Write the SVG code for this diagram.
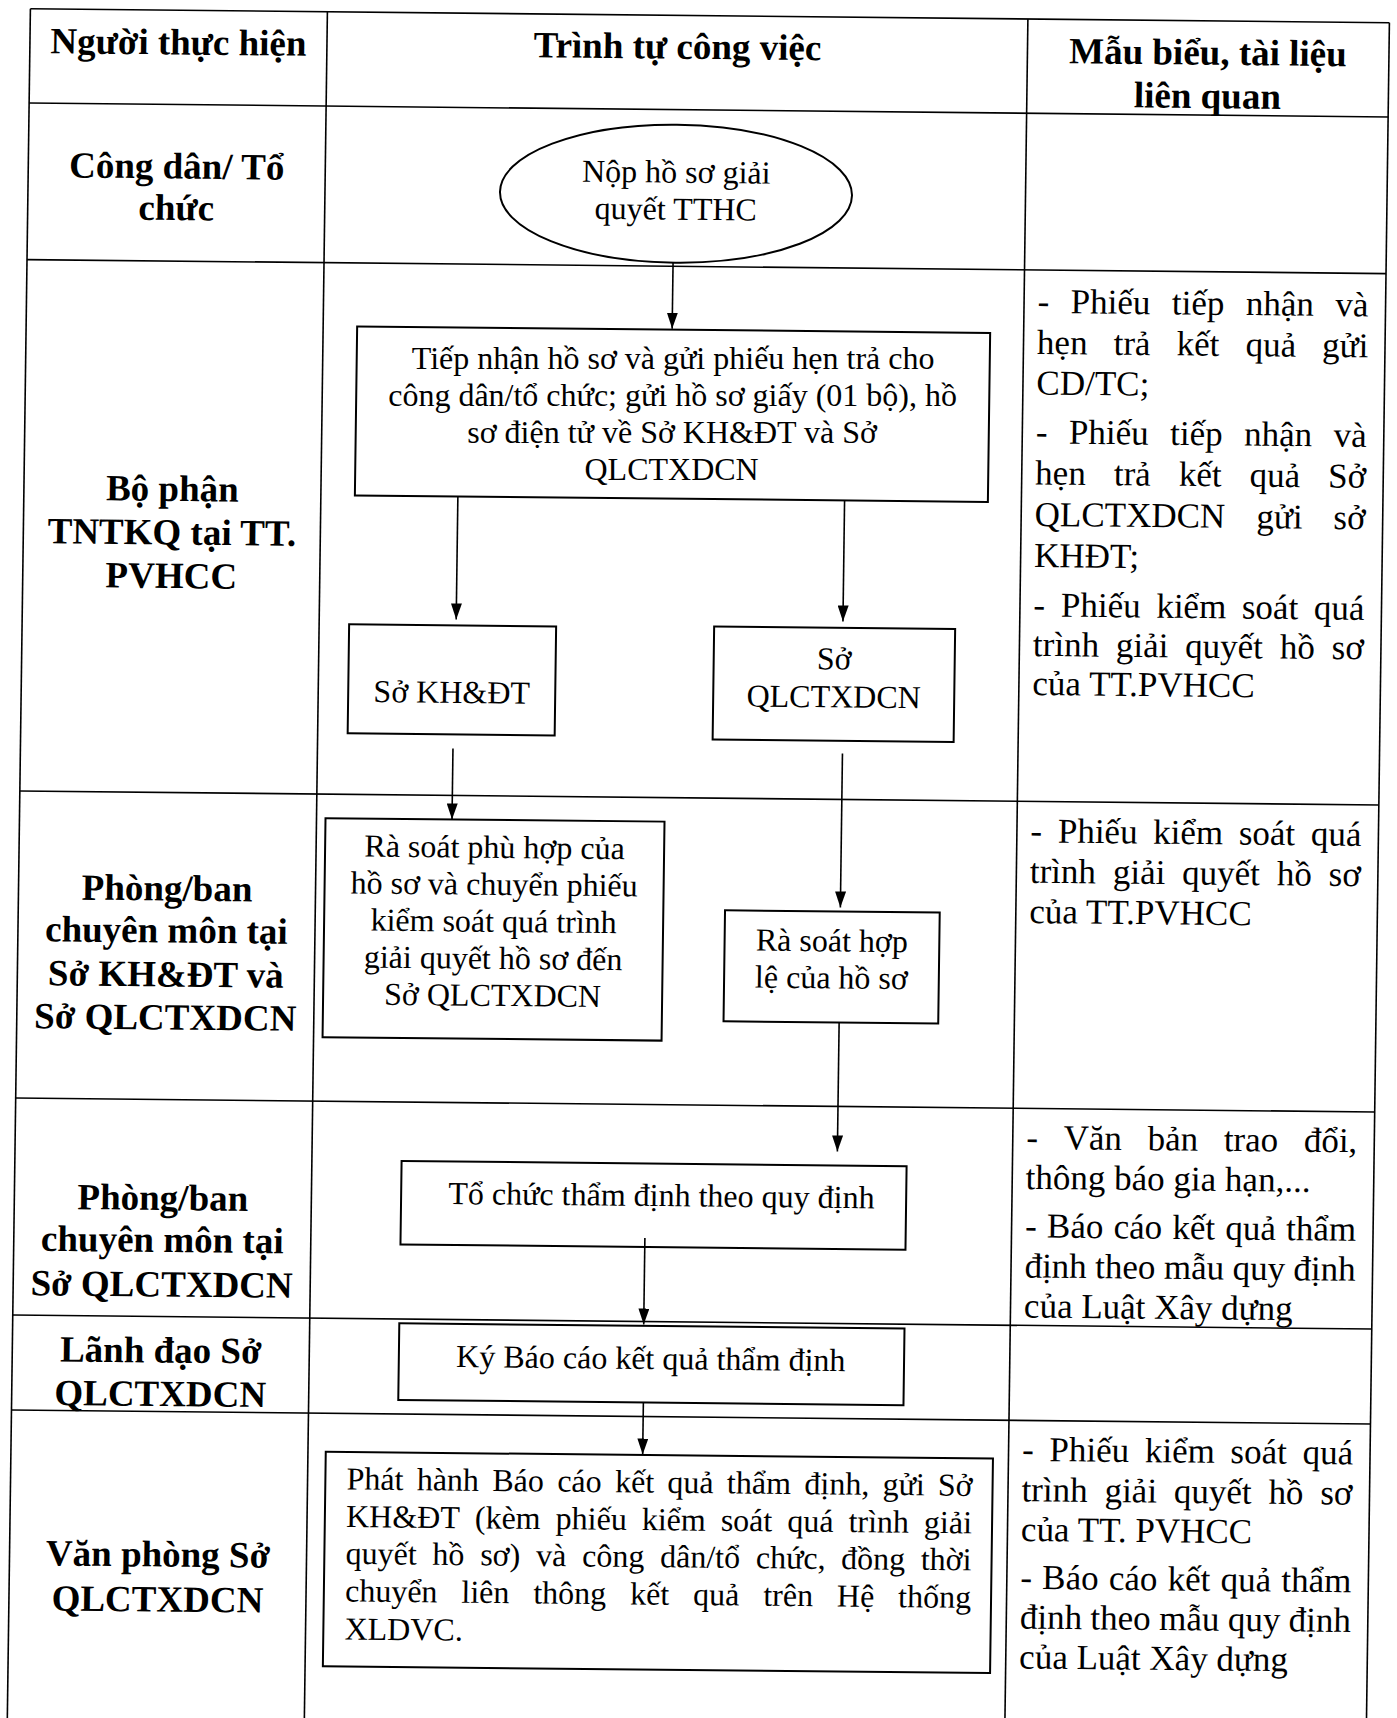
<svg xmlns="http://www.w3.org/2000/svg" width="1397" height="1718" viewBox="0 0 1397 1718">
<style>
.t{font-family:"Liberation Serif","Times New Roman",serif;font-size:32px;fill:#000}
.b{font-weight:bold;font-size:37px}
.m{font-size:35px}
.c{text-anchor:middle}
.ln{stroke:#000;stroke-width:1.6;fill:none}
.bx{fill:#fff;stroke:#000;stroke-width:2}
.ar{stroke:#000;stroke-width:1.6;fill:none;marker-end:url(#ah)}
</style>
<defs>
<marker id="ah" viewBox="0 0 16 11" refX="16" refY="5.5" markerWidth="16" markerHeight="11" markerUnits="userSpaceOnUse" orient="auto">
<path d="M0,0 L16,5.5 L0,11 z" fill="#000"/>
</marker>
</defs>
<rect width="1397" height="1718" fill="#fff"/>
<g id="n-receive">
<rect class="bx" x="350" y="330" width="633" height="169" transform="matrix(1 0.0103 -0.0135 1 11.61 -7.21)"/>
<text class="t c" x="673.1" y="369.2">Tiếp nhận hồ sơ và gửi phiếu hẹn trả cho</text>
<text class="t c" x="672.6" y="406.2">công dân/tổ chức; gửi hồ sơ giấy (01 bộ), hồ</text>
<text class="t c" x="672.1" y="443.2">sơ điện tử về Sở KH&amp;ĐT và Sở</text>
<text class="t c" x="671.6" y="480.2">QLCTXDCN</text>
</g>
<g transform="matrix(1 0.0103 -0.0135 1 11.61 -7.21)">
<g id="table" class="ln">
<line x1="19" y1="15.7" x2="1378" y2="15.7"/>
<line x1="19" y1="110" x2="1378" y2="110"/>
<line x1="19" y1="266.6" x2="1378" y2="266.6"/>
<line x1="19" y1="798" x2="1378" y2="798"/>
<line x1="19" y1="1105" x2="1378" y2="1105"/>
<line x1="19" y1="1322" x2="1378" y2="1322"/>
<line x1="19" y1="1417" x2="1378" y2="1417"/>
<line x1="19" y1="15.7" x2="19" y2="1740"/>
<line x1="316" y1="15.7" x2="316" y2="1740"/>
<line x1="1016.5" y1="15.7" x2="1016.5" y2="1740"/>
<line x1="1378" y1="15.7" x2="1378" y2="1740"/>
</g>
<g id="headers">
<text class="t b c" x="167.5" y="60">Người thực hiện</text>
<text class="t b c" x="666.5" y="59">Trình tự công việc</text>
<text class="t b c" x="1197" y="59.6">Mẫu biểu, tài liệu</text>
<text class="t b c" x="1197" y="103">liên quan</text>
</g>
<g id="actors">
<text class="t b c" x="167.5" y="184">Công dân/ Tổ</text>
<text class="t b c" x="167.5" y="225.5">chức</text>
<text class="t b c" x="167.5" y="506.5">Bộ phận</text>
<text class="t b c" x="167.5" y="550">TNTKQ tại TT.</text>
<text class="t b c" x="167.5" y="593.5">PVHCC</text>
<text class="t b c" x="167.5" y="906">Phòng/ban</text>
<text class="t b c" x="167.5" y="948">chuyên môn tại</text>
<text class="t b c" x="167.5" y="992">Sở KH&amp;ĐT và</text>
<text class="t b c" x="167.5" y="1035">Sở QLCTXDCN</text>
<text class="t b c" x="167.5" y="1215.5">Phòng/ban</text>
<text class="t b c" x="167.5" y="1257.5">chuyên môn tại</text>
<text class="t b c" x="167.5" y="1302">Sở QLCTXDCN</text>
<text class="t b c" x="167.5" y="1368">Lãnh đạo Sở</text>
<text class="t b c" x="167.5" y="1411.5">QLCTXDCN</text>
<text class="t b c" x="167.5" y="1572">Văn phòng Sở</text>
<text class="t b c" x="167.5" y="1617">QLCTXDCN</text>
</g>
<g id="docs">
<text class="t m" y="309.5"><tspan x="1030">-</tspan> <tspan x="1063.2">Phiếu</tspan> <tspan x="1164.4">tiếp</tspan> <tspan x="1238.4">nhận</tspan> <tspan x="1327.9">và</tspan></text>
<text class="t m" y="350.5"><tspan x="1030">hẹn</tspan> <tspan x="1106.6">trả</tspan> <tspan x="1169.7">kết</tspan> <tspan x="1238.6">quả</tspan> <tspan x="1315.2">gửi</tspan></text>
<text class="t m" x="1030" y="391">CD/TC;</text>
<text class="t m" y="440"><tspan x="1030">-</tspan> <tspan x="1063.2">Phiếu</tspan> <tspan x="1164.4">tiếp</tspan> <tspan x="1238.4">nhận</tspan> <tspan x="1327.9">và</tspan></text>
<text class="t m" y="481"><tspan x="1030">hẹn</tspan> <tspan x="1108.6">trả</tspan> <tspan x="1173.6">kết</tspan> <tspan x="1244.5">quả</tspan> <tspan x="1323">Sở</tspan></text>
<text class="t m" y="522.5"><tspan x="1030">QLCTXDCN</tspan> <tspan x="1251.8">gửi</tspan> <tspan x="1328.8">sở</tspan></text>
<text class="t m" x="1030" y="563.5">KHĐT;</text>
<text class="t m" y="613"><tspan x="1030">-</tspan> <tspan x="1057.4">Phiếu</tspan> <tspan x="1152.8">kiểm</tspan> <tspan x="1238.4">soát</tspan> <tspan x="1310.5">quá</tspan></text>
<text class="t m" y="652.5"><tspan x="1030">trình</tspan> <tspan x="1113">giải</tspan> <tspan x="1182.3">quyết</tspan> <tspan x="1277">hồ</tspan> <tspan x="1328.8">sơ</tspan></text>
<text class="t m" x="1030" y="691.5">của TT.PVHCC</text>

<text class="t m" y="839"><tspan x="1030">-</tspan> <tspan x="1057.4">Phiếu</tspan> <tspan x="1152.8">kiểm</tspan> <tspan x="1238.4">soát</tspan> <tspan x="1310.5">quá</tspan></text>
<text class="t m" y="879.3"><tspan x="1030">trình</tspan> <tspan x="1113">giải</tspan> <tspan x="1182.3">quyết</tspan> <tspan x="1277">hồ</tspan> <tspan x="1328.8">sơ</tspan></text>
<text class="t m" x="1030" y="919.6">của TT.PVHCC</text>

<text class="t m" y="1145.5"><tspan x="1030">-</tspan> <tspan x="1067.4">Văn</tspan> <tspan x="1151.3">bản</tspan> <tspan x="1227.5">trao</tspan> <tspan x="1307.5">đổi,</tspan></text>
<text class="t m" x="1030" y="1185.5">thông báo gia hạn,...</text>
<text class="t m" y="1234"><tspan x="1030">-</tspan> <tspan x="1051.9">Báo</tspan> <tspan x="1118.5">cáo</tspan> <tspan x="1177.3">kết</tspan> <tspan x="1230.3">quả</tspan> <tspan x="1291">thẩm</tspan></text>
<text class="t m" y="1274"><tspan x="1030">định</tspan> <tspan x="1100.6">theo</tspan> <tspan x="1169.3">mẫu</tspan> <tspan x="1238">quy</tspan> <tspan x="1298.9">định</tspan></text>
<text class="t m" x="1030" y="1314">của Luật Xây dựng</text>

<text class="t m" y="1457.5"><tspan x="1030">-</tspan> <tspan x="1057.4">Phiếu</tspan> <tspan x="1152.8">kiểm</tspan> <tspan x="1238.4">soát</tspan> <tspan x="1310.5">quá</tspan></text>
<text class="t m" y="1497.8"><tspan x="1030">trình</tspan> <tspan x="1113">giải</tspan> <tspan x="1182.3">quyết</tspan> <tspan x="1277">hồ</tspan> <tspan x="1328.8">sơ</tspan></text>
<text class="t m" x="1030" y="1537.5">của TT. PVHCC</text>
<text class="t m" y="1585.5"><tspan x="1030">-</tspan> <tspan x="1051.9">Báo</tspan> <tspan x="1118.5">cáo</tspan> <tspan x="1177.3">kết</tspan> <tspan x="1230.3">quả</tspan> <tspan x="1291">thẩm</tspan></text>
<text class="t m" y="1625.2"><tspan x="1030">định</tspan> <tspan x="1100.6">theo</tspan> <tspan x="1169.3">mẫu</tspan> <tspan x="1238">quy</tspan> <tspan x="1298.9">định</tspan></text>
<text class="t m" x="1030" y="1665">của Luật Xây dựng</text>
</g>
<g id="n-submit">
<ellipse class="bx" cx="667" cy="194" rx="176" ry="69"/>
<text class="t c" x="667" y="183">Nộp hồ sơ giải</text>
<text class="t c" x="667" y="220">quyết TTHC</text>
</g>
<g id="n-khdt">
<rect class="bx" x="346" y="628" width="207" height="109"/>
<text class="t c" x="449.5" y="705.5">Sở KH&amp;ĐT</text>
</g>
<g id="n-qlct">
<rect class="bx" x="711" y="626.4" width="241" height="113"/>
<text class="t c" x="831.5" y="668">Sở</text>
<text class="t c" x="831.5" y="706">QLCTXDCN</text>
</g>
<g id="n-review1">
<rect class="bx" x="325" y="822" width="339" height="219"/>
<text class="t c" x="494.5" y="860">Rà soát phù hợp của</text>
<text class="t c" x="494.5" y="897">hồ sơ và chuyển phiếu</text>
<text class="t c" x="494.5" y="934">kiểm soát quá trình</text>
<text class="t c" x="494.5" y="971">giải quyết hồ sơ đến</text>
<text class="t c" x="494.5" y="1008">Sở QLCTXDCN</text>
</g>
<g id="n-review2">
<rect class="bx" x="725.7" y="910" width="214.7" height="111"/>
<text class="t c" x="833" y="950">Rà soát hợp</text>
<text class="t c" x="833" y="987">lệ của hồ sơ</text>
</g>
<g id="n-appraise">
<rect class="bx" x="405.7" y="1164" width="505" height="83.5"/>
<text class="t c" x="666" y="1206.5">Tổ chức thẩm định theo quy định</text>
</g>
<g id="n-sign">
<rect class="bx" x="405.6" y="1326.3" width="505.2" height="76.7"/>
<text class="t c" x="657.6" y="1369.5">Ký Báo cáo kết quả thẩm định</text>
</g>
<g id="n-issue">
<rect class="bx" x="333.8" y="1455.5" width="667.2" height="214.5"/>
<text class="t" y="1493"><tspan x="355">Phát</tspan> <tspan x="425.2">hành</tspan> <tspan x="500.8">Báo</tspan> <tspan x="565.7">cáo</tspan> <tspan x="623.5">kết</tspan> <tspan x="675.9">quả</tspan> <tspan x="735.4">thẩm</tspan> <tspan x="812.8">định,</tspan> <tspan x="891">gửi</tspan> <tspan x="946.3">Sở</tspan></text>
<text class="t" y="1530.5"><tspan x="355">KH&amp;ĐT</tspan> <tspan x="483.8">(kèm</tspan> <tspan x="564.6">phiếu</tspan> <tspan x="650.7">kiểm</tspan> <tspan x="729.7">soát</tspan> <tspan x="796.3">quá</tspan> <tspan x="857.5">trình</tspan> <tspan x="932.9">giải</tspan></text>
<text class="t" y="1567.5"><tspan x="355">quyết</tspan> <tspan x="441.9">hồ</tspan> <tspan x="489.7">sơ)</tspan> <tspan x="545.5">và</tspan> <tspan x="591.5">công</tspan> <tspan x="669.5">dân/tổ</tspan> <tspan x="765.3">chức,</tspan> <tspan x="850.5">đồng</tspan> <tspan x="930.2">thời</tspan></text>
<text class="t" y="1605"><tspan x="355">chuyển</tspan> <tspan x="471.3">liên</tspan> <tspan x="543.2">thông</tspan> <tspan x="640">kết</tspan> <tspan x="703">quả</tspan> <tspan x="773.2">trên</tspan> <tspan x="846.9">Hệ</tspan> <tspan x="908.1">thống</tspan></text>
<text class="t" x="355" y="1643">XLDVC.</text>
</g>
<g id="connectors">
<line class="ar" x1="665" y1="263" x2="665" y2="329"/>
<line class="ar" x1="453" y1="499" x2="453" y2="622"/>
<line class="ar" x1="839.7" y1="499" x2="839.7" y2="620"/>
<line class="ar" x1="451.5" y1="751" x2="451.5" y2="822"/>
<line class="ar" x1="841" y1="752" x2="841" y2="906"/>
<line class="ar" x1="841.3" y1="1021" x2="841.3" y2="1150"/>
<line class="ar" x1="650" y1="1238.6" x2="650" y2="1325"/>
<line class="ar" x1="650.7" y1="1403" x2="650.7" y2="1455"/>
</g>
</g>
</svg>
